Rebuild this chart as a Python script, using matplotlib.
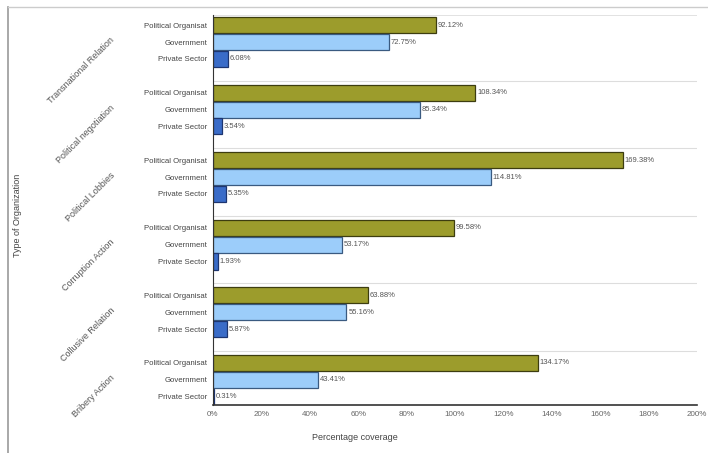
import numpy as np
import matplotlib.pyplot as plt
from matplotlib.lines import Line2D

groups = ["Transnational Relation", "Political negotiation", "Political Lobbies",
          "Corruption Action", "Collusive Relation", "Bribery Action"]
series = ["Political Organisat", "Government", "Private Sector"]
political = [92.12, 108.34, 169.38, 99.58, 63.88, 134.17]
government = [72.75, 85.34, 114.81, 53.17, 55.16, 43.41]
private = [6.08, 3.54, 5.35, 1.93, 5.87, 0.31]
xticks = [0, 20, 40, 60, 80, 100, 120, 140, 160, 180, 200]

plt.rcParams['font.family'] = ['Liberation Sans', 'DejaVu Sans']

fig = plt.figure(figsize=(7.08, 4.53), dpi=100)
ax = fig.add_axes([213/708, 1 - 405/453, 484/708, 390/453])

fills = ["#9c9c2c", "#9ccdfa", "#3a6cc8"]
edges = ["#3d3d10", "#3a5a80", "#1d3570"]
vals = [political, government, private]

pitch = 4.0
ypos_all = []
lab_all = []
for j in range(3):
    y = np.arange(len(groups)) * pitch + j
    ax.barh(y, vals[j], height=0.95, color=fills[j], edgecolor=edges[j], linewidth=0.9)
    for yy, v in zip(y, vals[j]):
        ax.text(v + 0.8, yy, f"{v:.2f}%", va='center', ha='left', fontsize=5.5, color="#555555")
    ypos_all += list(y)
    lab_all += [series[j]] * len(groups)

ax.set_yticks(ypos_all)
ax.set_yticklabels(lab_all, fontsize=5.6, color="#444444")
ax.set_ylim(22.5, -0.6)
ax.set_xlim(0, 200)
ax.set_xticks(xticks)
ax.set_xticklabels([f"{t}%" for t in xticks], fontsize=5.8, color="#666666")
ax.tick_params(length=0, pad=4)

for i in range(1, len(groups)):
    ax.axhline(i * pitch - 0.7, color="#dddddd", lw=0.8, zorder=0)
ax.axhline(-0.6, color="#dddddd", lw=1.2, zorder=0)

for s in ["top", "right"]:
    ax.spines[s].set_visible(False)
ax.spines["left"].set_color("#333333")
ax.spines["bottom"].set_color("#333333")
ax.spines["bottom"].set_linewidth(1.2)

# group labels, rotated
for i, g in enumerate(groups):
    yc = i * pitch + 0.8
    ax.annotate(g, xy=(0, yc), xycoords=('axes fraction', 'data'),
                xytext=(-72, 0), textcoords='offset points',
                rotation=45, rotation_mode='anchor', ha='right', va='center',
                fontsize=6.5, color="#555555")

fig.text(18/708, 1 - 215/453, "Type of Organization", rotation=90,
         ha='center', va='center', fontsize=6.5, color="#444444")
fig.text(355/708, 1 - 437/453, "Percentage coverage",
         ha='center', va='center', fontsize=6.5, color="#444444")

# outer frame lines
fig.add_artist(Line2D([8/708, 8/708], [0, 1 - 7/453], color="#999999", lw=1.2))
fig.add_artist(Line2D([8/708, 1], [1 - 7/453, 1 - 7/453], color="#cccccc", lw=1.0))

fig.savefig("out.png", dpi=100)
